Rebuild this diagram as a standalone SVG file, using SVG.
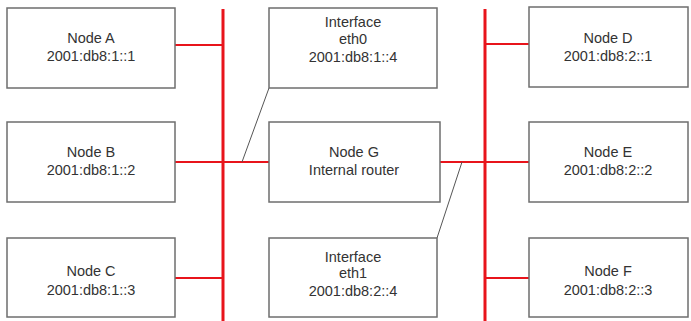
<svg xmlns="http://www.w3.org/2000/svg" width="691" height="321" viewBox="0 0 691 321">
<style>
.box{fill:#fff;stroke:#6e6e6e;stroke-width:1.5}
.t{font-family:"Liberation Sans","DejaVu Sans",sans-serif;font-size:14.5px;fill:#333;text-anchor:middle}
.bus{stroke:#e8141b;stroke-width:3;fill:none}
.lnk{stroke:#e8141b;stroke-width:2;fill:none}
.lead{stroke:#555;stroke-width:1;fill:none}
</style>
<rect width="691" height="321" fill="#fff"/>
<g id="connectors">
<line class="bus" x1="223" y1="9" x2="223" y2="321"/>
<line class="bus" x1="485" y1="9" x2="485" y2="321"/>
<line class="lnk" x1="175" y1="45" x2="223" y2="45"/>
<line class="lnk" x1="175" y1="162" x2="269" y2="162"/>
<line class="lnk" x1="175" y1="278" x2="223" y2="278"/>
<line class="lnk" x1="485" y1="44" x2="529" y2="44"/>
<line class="lnk" x1="440" y1="162" x2="529" y2="162"/>
<line class="lnk" x1="485" y1="278" x2="529" y2="278"/>
<line class="lead" x1="269" y1="88" x2="242" y2="162"/>
<line class="lead" x1="437" y1="238" x2="462" y2="162"/>
</g>
<g id="nodeA"><rect class="box" x="7" y="8" width="168" height="80"/><text class="t" x="91" y="43">Node A</text><text class="t" x="91" y="61">2001:db8:1::1</text></g>
<g id="nodeB"><rect class="box" x="7" y="122" width="168" height="80"/><text class="t" x="91" y="157">Node B</text><text class="t" x="91" y="175">2001:db8:1::2</text></g>
<g id="nodeC"><rect class="box" x="7" y="238" width="168" height="79"/><text class="t" x="91" y="276">Node C</text><text class="t" x="91" y="295">2001:db8:1::3</text></g>
<g id="eth0"><rect class="box" x="269" y="8" width="168" height="80"/><text class="t" x="353" y="27">Interface</text><text class="t" x="353" y="44">eth0</text><text class="t" x="353" y="62">2001:db8:1::4</text></g>
<g id="nodeG"><rect class="box" x="269" y="122" width="171" height="80"/><text class="t" x="354" y="157">Node G</text><text class="t" x="354" y="175">Internal router</text></g>
<g id="eth1"><rect class="box" x="269" y="238" width="168" height="79"/><text class="t" x="353" y="262">Interface</text><text class="t" x="353" y="278">eth1</text><text class="t" x="353" y="296">2001:db8:2::4</text></g>
<g id="nodeD"><rect class="box" x="529" y="7" width="159" height="80"/><text class="t" x="608" y="43">Node D</text><text class="t" x="608" y="61">2001:db8:2::1</text></g>
<g id="nodeE"><rect class="box" x="529" y="122" width="159" height="80"/><text class="t" x="608" y="157">Node E</text><text class="t" x="608" y="175">2001:db8:2::2</text></g>
<g id="nodeF"><rect class="box" x="529" y="238" width="159" height="79"/><text class="t" x="608" y="276">Node F</text><text class="t" x="608" y="295">2001:db8:2::3</text></g>
</svg>
